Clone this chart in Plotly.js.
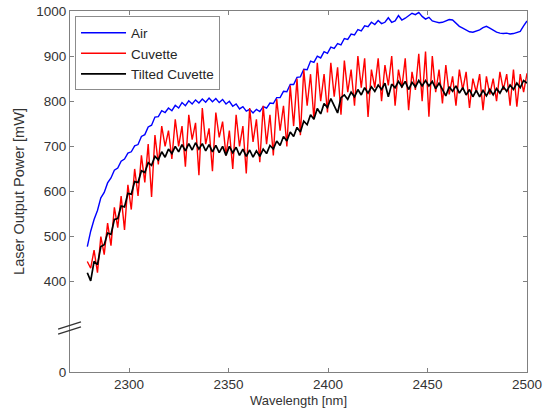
<!DOCTYPE html>
<html>
<head>
<meta charset="utf-8">
<script src="https://cdn.plot.ly/plotly-3.0.1.min.js"></script>
<style>html,body{margin:0;padding:0;background:#fff;}#chart{width:557px;height:410px;}</style>
</head>
<body>
<div id="chart"></div>
<script>
// Wavelength sampling of all three series (nm)
const wavelengthStart = 2279;
const wavelengthStep = 1.7;

const seriesNames = ["Air", "Cuvette", "Tilted Cuvette"];

// Laser output power [mW]
const airPower = [
478,512,538,558,586,598,619,630,647,652,667,672,685,688,701,704,722,726,743,747,
765,766,779,775,785,779,791,785,797,790,801,794,803,796,805,798,807,799,806,797,
804,794,800,789,794,783,788,778,782,774,782,777,788,785,796,795,808,808,822,821,
837,837,853,854,871,870,889,886,900,896,910,906,920,917,928,925,939,937,949,947,
959,956,967,965,975,970,979,972,975,985,975,978,990,980,984,990,995,992,997,988,
982,986,978,976,974,975,978,981,980,972,966,962,957,954,953,955,958,963,966,962,
957,953,951,950,951,949,950,952,955,967,978
];

const cuvettePower = [
445,430,470,420,500,460,530,480,565,520,590,515,615,560,650,590,680,620,705,588,
725,660,745,700,735,672,760,700,745,655,770,715,752,636,785,705,740,645,775,720,
755,680,735,650,770,700,745,640,785,710,760,665,790,705,770,680,805,735,790,700,
835,745,850,725,870,790,860,760,885,800,860,775,885,810,875,770,890,820,870,790,
900,830,895,765,870,830,895,800,880,835,900,790,870,830,895,780,865,825,905,800,
910,766,900,820,870,795,880,815,855,790,870,825,865,785,850,820,860,780,855,815,
850,800,865,825,860,790,870,788,860,820,862
];

const tiltedPower = [
420,402,445,438,478,482,508,505,538,540,568,566,596,594,622,620,646,642,664,658,
678,670,688,676,694,684,700,688,704,690,706,692,708,694,706,690,704,688,702,686,
700,680,700,686,698,680,694,678,692,676,690,678,694,684,702,694,712,702,722,712,
732,722,742,732,756,748,770,760,784,772,795,786,806,790,774,808,814,804,820,810,
826,814,830,818,832,822,836,826,840,810,838,830,844,832,844,826,842,832,846,834,
846,834,844,828,840,826,812,832,822,834,818,830,814,826,810,824,810,824,812,826,
814,828,818,832,822,836,826,840,830,846,840
];

// Axis ticks (axis is broken: bottom label "0")
const xTickVals = [2300, 2350, 2400, 2450, 2500];
const yTickVals = [200, 400, 500, 600, 700, 800, 900, 1000];
const yTickText = ["0", "400", "500", "600", "700", "800", "900", "1000"];

const colors = ["#0000ff", "#ff0000", "#000000"];
const widths = [1.4, 1.4, 1.7];
const data = [airPower, cuvettePower, tiltedPower];

const traces = data.map((y, i) => ({
  type: "scatter",
  mode: "lines",
  name: seriesNames[i],
  x0: wavelengthStart,
  dx: wavelengthStep,
  y: y,
  line: {color: colors[i], width: widths[i]}
}));

const fam = "Liberation Sans, Arial, Helvetica, sans-serif";
const tickFont = {family: fam, size: 13.5, color: "#333333"};

const layout = {
  width: 557,
  height: 410,
  margin: {l: 70, r: 30, t: 11, b: 38},
  paper_bgcolor: "#ffffff",
  plot_bgcolor: "#ffffff",
  font: tickFont,
  showlegend: true,
  legend: {
    x: 0.011, y: 0.985, xanchor: "left", yanchor: "top",
    bgcolor: "#ffffff", bordercolor: "#8c8c8c", borderwidth: 1,
    font: {family: fam, size: 13.5, color: "#262626"},
    itemwidth: 45,
    tracegroupgap: 0
  },
  xaxis: {
    range: [2270.3, 2500],
    tickvals: xTickVals,
    ticks: "inside", ticklen: 4, tickcolor: "#808080", tickwidth: 1,
    showline: true, linecolor: "#808080", linewidth: 1, mirror: "ticks",
    showgrid: false, zeroline: false,
    tickfont: tickFont,
    title: {text: "Wavelength [nm]", font: {family: fam, size: 13, color: "#333333"}, standoff: 4}
  },
  yaxis: {
    range: [200, 1000],
    tickvals: yTickVals,
    ticktext: yTickText,
    ticks: "inside", ticklen: 4, tickcolor: "#808080", tickwidth: 1,
    showline: true, linecolor: "#808080", linewidth: 1, mirror: "ticks",
    showgrid: false, zeroline: false,
    tickfont: tickFont,
    title: {text: "Laser Output Power [mW]", font: {family: fam, size: 14.5, color: "#333333"}, standoff: 8}
  },
  shapes: [
    {type: "line", xref: "paper", yref: "paper", x0: -0.026, x1: 0.024, y0: 0.119, y1: 0.139,
     line: {color: "#333333", width: 1.3}},
    {type: "line", xref: "paper", yref: "paper", x0: -0.026, x1: 0.024, y0: 0.105, y1: 0.125,
     line: {color: "#333333", width: 1.3}}
  ]
};

Plotly.newPlot("chart", traces, layout, {displayModeBar: false, staticPlot: true});
</script>
</body>
</html>
